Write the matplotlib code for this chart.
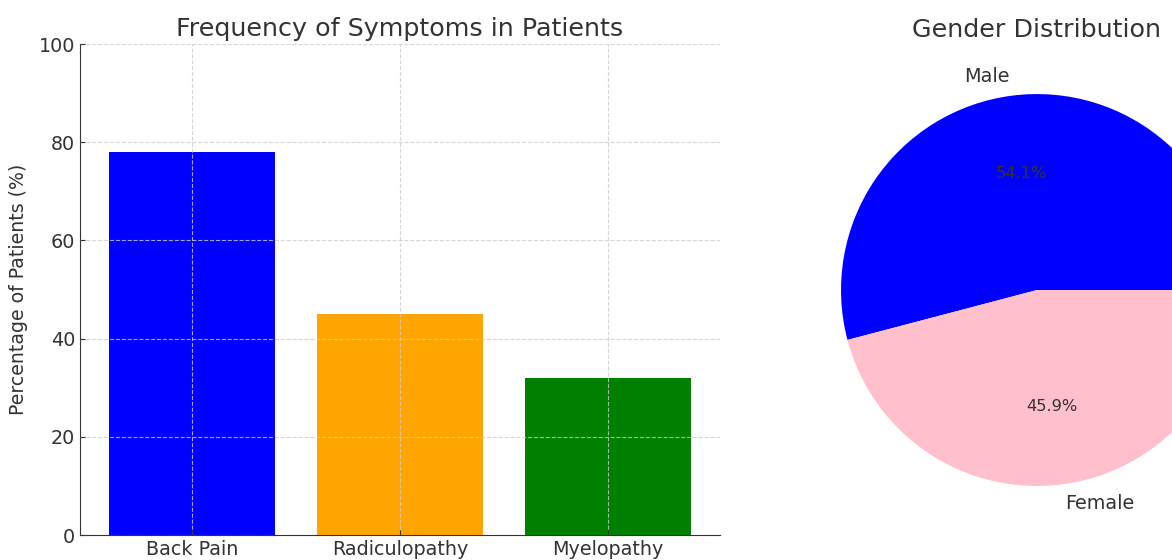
import matplotlib
matplotlib.use("Agg")
import matplotlib.pyplot as plt

matplotlib.rcParams.update({
    "font.family": "DejaVu Sans",
    "text.color": "#333333",
    "axes.labelcolor": "#333333",
    "xtick.color": "#333333",
    "ytick.color": "#333333",
    "axes.edgecolor": "#333333",
})

# data
symptoms = ["Back Pain", "Radiculopathy", "Myelopathy"]
symptom_pct = [78, 45, 32]
symptom_colors = ["blue", "orange", "green"]

genders = ["Male", "Female"]
gender_share = [54.1, 45.9]
gender_colors = ["blue", "pink"]

fig = plt.figure(figsize=(11.72, 5.6), dpi=100)

# bar chart
ax1 = fig.add_axes([0.0683, 0.0446, 0.546, 0.8768])
ax1.bar(symptoms, symptom_pct, color=symptom_colors, width=0.8)
ax1.set_ylim(0, 100)
ax1.set_yticks([0, 20, 40, 60, 80, 100])
ax1.set_ylabel("Percentage of Patients (%)", fontsize=13.6, labelpad=8)
ax1.set_title("Frequency of Symptoms in Patients", fontsize=18.3)
ax1.tick_params(direction="in", labelsize=13.8)
ax1.grid(True, linestyle="--", color="#cccccc", alpha=0.8, linewidth=0.8)
ax1.set_axisbelow(False)
for s in ["top", "right"]:
    ax1.spines[s].set_visible(False)

# pie chart
ax2 = fig.add_axes([0.6758, 0.0446, 0.418, 0.875])
ax2.pie(gender_share, labels=genders, colors=gender_colors, autopct="%1.1f%%",
        textprops={"fontsize": 13.9, "color": "#333333"})
for t in ax2.texts:
    if "%" in t.get_text():
        t.set_fontsize(11.7)
ax2.set_xlim(-1.25, 1.25)
ax2.set_ylim(-1.25, 1.25)
ax2.set_aspect("equal")
ax2.set_title("Gender Distribution", fontsize=18.3)

fig.savefig("out.png", dpi=100)
